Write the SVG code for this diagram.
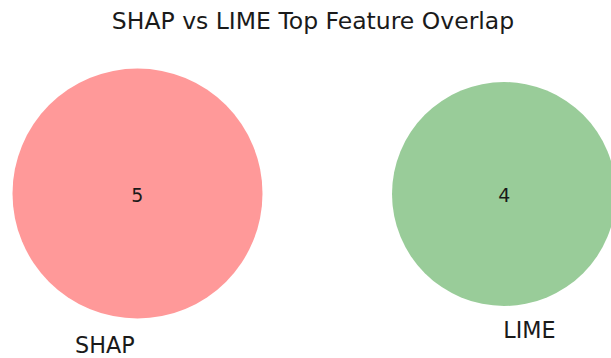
<svg xmlns="http://www.w3.org/2000/svg" width="611" height="358" viewBox="0 0 611 358">
<style>
text{font-family:"DejaVu Sans","Liberation Sans",sans-serif;fill:#1a1a1a}
.title{font-size:23.5px;text-anchor:middle}
.lbl{font-size:22.3px}
.num{font-size:19px;text-anchor:middle}
</style>
<rect width="611" height="358" fill="#ffffff"/>
<text class="title" x="313" y="29">SHAP vs LIME Top Feature Overlap</text>
<g id="shap">
<circle cx="137.5" cy="193.5" r="125" fill="#ff9999"/>
<text class="num" x="137.3" y="201.8">5</text>
<text class="lbl" x="75" y="352.5">SHAP</text>
</g>
<g id="lime">
<circle cx="504" cy="194" r="112" fill="#99cc99"/>
<text class="num" x="504.2" y="201.8">4</text>
<text class="lbl" x="503.3" y="338.3">LIME</text>
</g>
<g id="connectors"></g>
</svg>
